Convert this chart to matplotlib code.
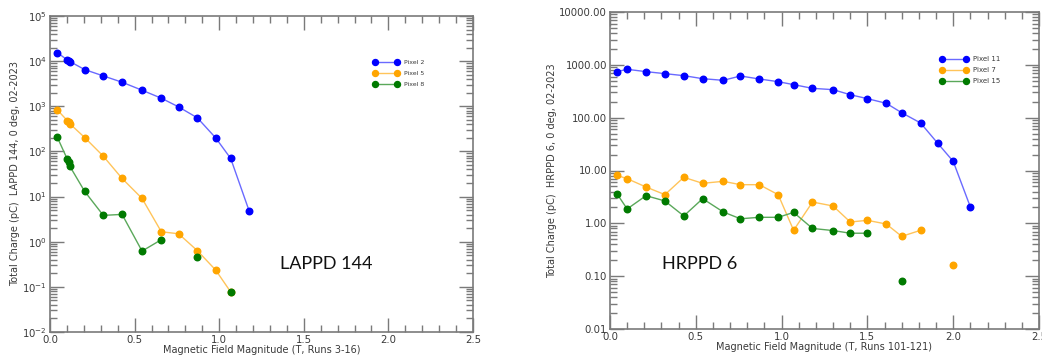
import numpy as np
import matplotlib
matplotlib.use('Agg')
import matplotlib.pyplot as plt
from matplotlib.ticker import FixedLocator, LogLocator, MultipleLocator, FuncFormatter, NullFormatter

nan = np.nan

# LAPPD 144, runs 3-16
x_lappd = [0.043, 0.102, 0.112, 0.118, 0.205, 0.315, 0.426, 0.544, 0.658, 0.760, 0.871, 0.979, 1.068, 1.178]
pix2 = [15450, 10640, 10300, 9770, 6500, 4710, 3410, 2270, 1510, 970, 554, 200, 69.8, 4.69]
pix5 = [832, 483, 452, 408, 203, 78.5, 25.2, 9.1, 1.66, 1.50, 0.633, 0.236, 0.077, nan]
pix8 = [207, 67.5, 58, 46.4, 13.0, 3.83, 4.03, 0.62, 1.11, nan, 0.466, nan, 0.077, nan]

# HRPPD 6, runs 101-121
x_hrppd = [0.04, 0.10, 0.21, 0.32, 0.43, 0.54, 0.66, 0.76, 0.87, 0.98, 1.07,
           1.18, 1.30, 1.40, 1.50, 1.61, 1.70, 1.81, 1.91, 2.00, 2.10]
pix11 = [743, 823, 743, 681, 624, 547, 509, 615, 540, 480, 422,
         359, 339, 272, 229, 187, 124, 79.3, 32.7, 14.9, 2.04]
pix7 = [8.1, 7.0, 4.87, 3.49, 7.43, 5.72, 6.24, 5.39, 5.39, 3.49, 0.738,
        2.53, 2.13, 1.06, 1.14, 0.97, 0.567, 0.738, nan, 0.160, nan]
pix15 = [3.65, 1.87, 3.34, 2.65, 1.38, 2.93, 1.64, 1.22, 1.30, 1.30, 1.61,
         0.80, 0.73, 0.65, 0.65, nan, 0.080, nan, nan, nan, nan]

W, H = 1042, 358
fig = plt.figure(figsize=(W / 100, H / 100), dpi=100)

gray = '#7a7a7a'
txt = '#3a3a3a'
colors = {'blue': ('#0000ff', '#6a6aff'), 'orange': ('#ffa500', '#ffc45a'), 'green': ('#007a00', '#5aa85a')}


def style_axes(ax):
    for s in ax.spines.values():
        s.set_color(gray)
        s.set_linewidth(1.2)
    ax.set_xlim(0, 2.5)
    ax.xaxis.set_major_locator(MultipleLocator(0.5))
    ax.xaxis.set_minor_locator(MultipleLocator(0.1))
    ax.xaxis.set_major_formatter(FuncFormatter(lambda v, p: f'{v:.1f}'))
    ax.tick_params(which='both', direction='in', top=True, right=True, colors=gray,
                   labelcolor=txt, labelsize=7.3, width=1.0)
    ax.tick_params(which='major', length=10)
    ax.tick_params(which='minor', length=5)
    ax.tick_params(axis='x', pad=2)
    ax.tick_params(axis='y', pad=2)
    ax.yaxis.set_minor_locator(LogLocator(base=10, subs=np.arange(2, 10)))
    ax.yaxis.set_minor_formatter(NullFormatter())


def draw(ax, x, series):
    for y, c, lab in series:
        ax.plot(x, y, '-', color=colors[c][1], lw=1.0, zorder=2)
        ax.plot(x, y, 'o', color=colors[c][0], ms=4.7, zorder=3)
    handles = [plt.Line2D([0, 1], [0, 0], color=colors[c][1], lw=1.0, marker='o',
                          mfc=colors[c][0], mec=colors[c][0], ms=4.3)
               for _, c, _ in series]
    return handles


# left panel
ax1 = fig.add_axes([50 / W, 1 - 332 / H, 423 / W, 316 / H])
ax1.set_yscale('log')
ax1.set_ylim(1e-2, 1e5)
style_axes(ax1)
ax1.yaxis.set_major_locator(FixedLocator([10.0 ** k for k in range(-2, 6)]))
ax1.yaxis.set_major_formatter(FuncFormatter(lambda v, p: r'$10^{%d}$' % round(np.log10(v))))
h1 = draw(ax1, x_lappd, [(pix2, 'blue', 'Pixel 2'), (pix5, 'orange', 'Pixel 5'), (pix8, 'green', 'Pixel 8')])
ax1.legend(h1, ['Pixel 2', 'Pixel 5', 'Pixel 8'], loc='upper left', bbox_to_anchor=(0.75, 0.88),
           frameon=False, fontsize=4.5, handlelength=4.2, numpoints=2, labelspacing=0.9,
           handletextpad=0.8, labelcolor=txt)
ax1.set_xlabel('Magnetic Field Magnitude (T, Runs 3-16)', fontsize=7, color=txt, labelpad=0)
ax1.set_ylabel('Total Charge (pC)  LAPPD 144, 0 deg, 02-2023', fontsize=7, color=txt, labelpad=2)
ax1.text(0.543, 0.215, 'LAPPD 144', transform=ax1.transAxes, fontsize=13,
         family='Lato', color='#111111', va='center')

# right panel
ax2 = fig.add_axes([610 / W, 1 - 329 / H, 429 / W, 317 / H])
ax2.set_yscale('log')
ax2.set_ylim(1e-2, 1e4)
style_axes(ax2)
ax2.yaxis.set_major_locator(FixedLocator([10.0 ** k for k in range(-2, 5)]))
ax2.yaxis.set_major_formatter(FuncFormatter(lambda v, p: f'{v:.2f}'))
h2 = draw(ax2, x_hrppd, [(pix11, 'blue', 'Pixel 11'), (pix7, 'orange', 'Pixel 7'), (pix15, 'green', 'Pixel 15')])
ax2.legend(h2, ['Pixel 11', 'Pixel 7', 'Pixel 15'], loc='upper left', bbox_to_anchor=(0.755, 0.88),
           frameon=False, fontsize=5, handlelength=4.0, numpoints=2, labelspacing=0.7,
           handletextpad=0.8, labelcolor=txt)
ax2.set_xlabel('Magnetic Field Magnitude (T, Runs 101-121)', fontsize=7, color=txt, labelpad=0)
ax2.set_ylabel('Total Charge (pC)  HRPPD 6, 0 deg, 02-2023', fontsize=7, color=txt, labelpad=2)
ax2.text(0.122, 0.205, 'HRPPD 6', transform=ax2.transAxes, fontsize=13,
         family='Lato', color='#111111', va='center')

fig.savefig('out.png', dpi=100)
